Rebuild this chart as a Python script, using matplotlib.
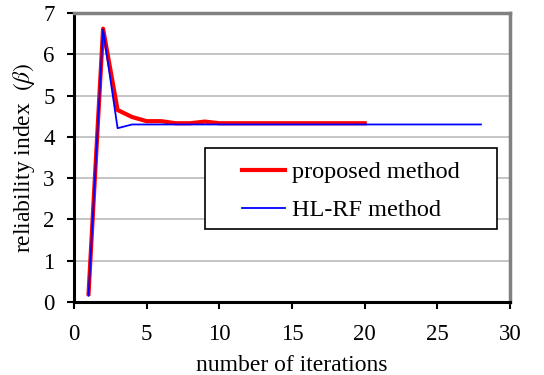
import matplotlib
matplotlib.use("Agg")
import matplotlib.pyplot as plt
from matplotlib.patches import Rectangle

# values
proposed_iter = [1, 2, 3, 4, 5, 6, 7, 8, 9, 10, 11, 12, 13, 14, 15, 16, 17, 18, 19, 20]
proposed_beta = [0.2, 6.62, 4.65, 4.48, 4.38, 4.38, 4.33, 4.33, 4.37, 4.33,
                 4.33, 4.33, 4.33, 4.33, 4.33, 4.33, 4.33, 4.33, 4.33, 4.33]
hlrf_iter = list(range(1, 29))
hlrf_beta = [0.15, 6.6, 4.21] + [4.30] * 25

plt.rcParams["font.family"] = ["Liberation Serif", "DejaVu Serif"]
plt.rcParams["mathtext.fontset"] = "stix"

fig = plt.figure(figsize=(5.44, 3.75), dpi=100)
ax = fig.add_axes([74 / 544, 1 - 302 / 375, 436 / 544, 289 / 375])

ax.plot(proposed_iter, proposed_beta, color="#ff0000", linewidth=3.0, label="proposed method", zorder=3)
ax.plot(hlrf_iter, hlrf_beta, color="#0000ff", linewidth=1.3, label="HL-RF method", zorder=4)

ax.set_xlim(0, 30)
ax.set_ylim(0, 7)
ax.set_xticks(range(0, 31, 5))
ax.set_yticks(range(0, 8))
ax.grid(axis="y", color="#c0c0c0", linewidth=1.3)
ax.set_axisbelow(True)

for side in ("left", "bottom"):
    ax.spines[side].set_color("black")
    ax.spines[side].set_linewidth(2.2)
for side in ("top", "right"):
    ax.spines[side].set_color("#808080")
    ax.spines[side].set_linewidth(2.5)

ax.tick_params(direction="out", length=5, width=1.5, labelsize=16.5)
ax.tick_params(axis="x", pad=11)
ax.tick_params(axis="y", pad=9)

ax.set_xlabel("number of iterations", fontsize=17, labelpad=7)
ax.set_ylabel(r"reliability index  $\mathit{(\beta)}$", fontsize=17, labelpad=4)

# legend box drawn separately so the padding can differ left/right vs top/bottom
ax.add_patch(Rectangle((0.3005, 0.2526), 0.670, 0.280, transform=ax.transAxes,
                       facecolor="white", edgecolor="black", linewidth=1.2, zorder=5))
leg = ax.legend(loc="center left", bbox_to_anchor=(0.385, 0.383), fontsize=17.5,
                frameon=False, borderpad=0, borderaxespad=0,
                handlelength=1.77, handletextpad=0.3, labelspacing=0.65)
leg.set_zorder(6)

fig.savefig("out.png", dpi=100)
